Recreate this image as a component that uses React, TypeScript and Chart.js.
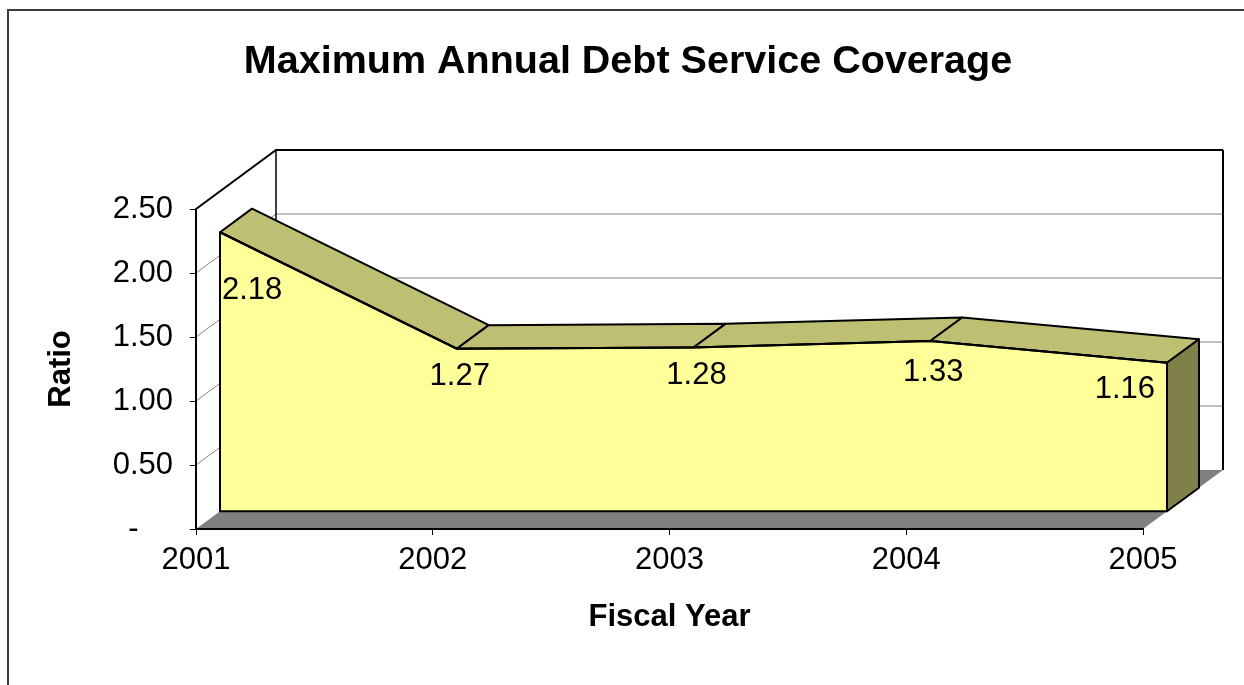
import React, { useEffect, useRef } from "react";
import { Chart, registerables } from "chart.js";

Chart.register(...registerables);

const chartTitle = "Maximum Annual Debt Service Coverage";
const fiscalYears = ["2001", "2002", "2003", "2004", "2005"];
const coverageRatio = [2.18, 1.27, 1.28, 1.33, 1.16];
const yTicks = [0, 0.5, 1.0, 1.5, 2.0, 2.5];
const xAxisTitle = "Fiscal Year";
const yAxisTitle = "Ratio";

const FONT = "'Liberation Sans', Arial, Helvetica, sans-serif";
const TICK_SIZE = 31;
const LABEL_SIZE = 31;
const AXIS_TITLE_SIZE = 31;
const TITLE_SIZE = 39.5;
const DX = 80;
const DY = -59;
const FRONT = 0.3;
const BACK = 0.7;
const COLORS = {
  face: "#FFFF99",
  top: "#BFBF73",
  side: "#80804A",
  floor: "#808080",
  grid: "#808080",
  edge: "#000000",
};

function formatTick(v: number) {
  return v === 0 ? "-    " : v.toFixed(2);
}

const depthPlugin = {
  id: "depth3d",
  beforeDraw(chart: any) {
    const { ctx, chartArea: a, scales } = chart;
    const ys = scales.y;
    const x0 = a.left;
    const x1 = a.right;
    const yb = ys.getPixelForValue(yTicks[0]);
    const yt = ys.getPixelForValue(yTicks[yTicks.length - 1]);
    ctx.save();
    ctx.fillStyle = "#ffffff";
    ctx.fillRect(0, 0, chart.width, chart.height);
    // outer frame
    ctx.strokeStyle = "#3c3c3c";
    ctx.lineWidth = 2;
    ctx.strokeRect(8, 10, chart.width + 20, chart.height + 20);
    // title
    ctx.fillStyle = "#000";
    ctx.font = `bold ${TITLE_SIZE}px ${FONT}`;
    ctx.textAlign = "center";
    ctx.textBaseline = "middle";
    ctx.fillText(chartTitle, 628, 62);
    // floor
    ctx.beginPath();
    ctx.moveTo(x0, yb);
    ctx.lineTo(x1, yb);
    ctx.lineTo(x1 + DX, yb + DY);
    ctx.lineTo(x0 + DX, yb + DY);
    ctx.closePath();
    ctx.fillStyle = COLORS.floor;
    ctx.fill();
    // gridlines on walls
    ctx.lineJoin = "miter";
    for (let i = 1; i < yTicks.length; i++) {
      const yp = ys.getPixelForValue(yTicks[i]);
      const isTop = i === yTicks.length - 1;
      ctx.beginPath();
      ctx.moveTo(x0, yp);
      ctx.lineTo(x0 + DX, yp + DY);
      ctx.lineTo(x1 + DX, yp + DY);
      ctx.strokeStyle = isTop ? COLORS.edge : COLORS.grid;
      ctx.lineWidth = isTop ? 2 : 1;
      ctx.stroke();
    }
    // back wall vertical edges
    ctx.strokeStyle = COLORS.edge;
    ctx.lineWidth = 1.5;
    ctx.beginPath();
    ctx.moveTo(x0 + DX, yt + DY);
    ctx.lineTo(x0 + DX, yb + DY);
    ctx.stroke();
    ctx.lineWidth = 2;
    ctx.beginPath();
    ctx.moveTo(x1 + DX, yt + DY);
    ctx.lineTo(x1 + DX, yb + DY);
    ctx.stroke();
    ctx.restore();
  },
  beforeDatasetsDraw(chart: any) {
    const { ctx, scales } = chart;
    const ys = scales.y;
    const meta = chart.getDatasetMeta(0);
    const base = ys.getPixelForValue(0);
    const pts = meta.data.map((p: any) => ({ x: p.x, y: p.y }));
    const f = (p: any, k: number) => ({ x: p.x + DX * k, y: p.y + DY * k });
    ctx.save();
    ctx.lineJoin = "round";
    ctx.strokeStyle = COLORS.edge;
    ctx.lineWidth = 2;
    for (let i = 0; i < pts.length - 1; i++) {
      const a = f(pts[i], FRONT);
      const b = f(pts[i + 1], FRONT);
      const c = f(pts[i + 1], BACK);
      const d = f(pts[i], BACK);
      ctx.beginPath();
      ctx.moveTo(a.x, a.y);
      ctx.lineTo(b.x, b.y);
      ctx.lineTo(c.x, c.y);
      ctx.lineTo(d.x, d.y);
      ctx.closePath();
      ctx.fillStyle = COLORS.top;
      ctx.fill();
      ctx.stroke();
    }
    const last = pts[pts.length - 1];
    const sa = f(last, FRONT);
    const sb = f(last, BACK);
    const sc = f({ x: last.x, y: base }, BACK);
    const sd = f({ x: last.x, y: base }, FRONT);
    ctx.beginPath();
    ctx.moveTo(sa.x, sa.y);
    ctx.lineTo(sb.x, sb.y);
    ctx.lineTo(sc.x, sc.y);
    ctx.lineTo(sd.x, sd.y);
    ctx.closePath();
    ctx.fillStyle = COLORS.side;
    ctx.fill();
    ctx.stroke();
    ctx.restore();
    // shift the front face of the area into depth
    ctx.save();
    ctx.translate(DX * FRONT, DY * FRONT);
  },
  afterDatasetsDraw(chart: any) {
    const { ctx, scales } = chart;
    ctx.restore();
    const ys = scales.y;
    const meta = chart.getDatasetMeta(0);
    const base = ys.getPixelForValue(0) + DY * FRONT;
    const pf = meta.data.map((p: any) => ({ x: p.x + DX * FRONT, y: p.y + DY * FRONT }));
    ctx.save();
    ctx.lineJoin = "round";
    ctx.strokeStyle = COLORS.edge;
    ctx.lineWidth = 2;
    ctx.beginPath();
    ctx.moveTo(pf[0].x, base);
    pf.forEach((p: any) => ctx.lineTo(p.x, p.y));
    ctx.lineTo(pf[pf.length - 1].x, base);
    ctx.closePath();
    ctx.stroke();

    const edgeY = (x: number) => {
      for (let i = 0; i < pf.length - 1; i++) {
        if (x >= pf[i].x && x <= pf[i + 1].x) {
          const t = (x - pf[i].x) / (pf[i + 1].x - pf[i].x);
          return pf[i].y + t * (pf[i + 1].y - pf[i].y);
        }
      }
      return x < pf[0].x ? pf[0].y : pf[pf.length - 1].y;
    };
    ctx.font = `${LABEL_SIZE}px ${FONT}`;
    ctx.fillStyle = "#000";
    ctx.textAlign = "center";
    ctx.textBaseline = "middle";
    const left = pf[0].x;
    const right = pf[pf.length - 1].x;
    coverageRatio.forEach((v, i) => {
      const text = v.toFixed(2);
      const w = ctx.measureText(text).width;
      let cx = pf[i].x + 3;
      cx = Math.max(cx, left + 2 + w / 2);
      cx = Math.min(cx, right - 12 - w / 2);
      const xs = [cx - w / 2, cx + w / 2];
      pf.forEach((p: any) => {
        if (p.x > cx - w / 2 && p.x < cx + w / 2) xs.push(p.x);
      });
      const maxY = Math.max(...xs.map(edgeY));
      ctx.fillText(text, cx, maxY + 28);
    });
    ctx.restore();
  },
};

export default function App() {
  const ref = useRef<HTMLCanvasElement>(null);
  useEffect(() => {
    if (!ref.current) return;
    const chart = new Chart(ref.current, {
      type: "line",
      data: {
        labels: fiscalYears,
        datasets: [
          {
            label: "Coverage",
            data: coverageRatio,
            backgroundColor: COLORS.face,
            borderColor: COLORS.edge,
            borderWidth: 2,
            fill: "origin",
            pointRadius: 0,
            tension: 0,
          },
        ],
      },
      options: {
        responsive: false,
        animation: false,
        devicePixelRatio: 1,
        events: [],
        layout: { padding: { left: 0, right: 101, top: 209, bottom: 0 } },
        plugins: {
          legend: { display: false },
          title: { display: false },
          tooltip: { enabled: false },
        },
        scales: {
          x: {
            type: "category",
            offset: false,
            afterFit(s: any) {
              s.height = 156;
            },
            grid: { drawOnChartArea: false, drawTicks: true, tickLength: 6, color: "#000", lineWidth: 1 },
            border: { display: true, color: "#000", width: 2 },
            ticks: {
              color: "#000",
              font: { size: TICK_SIZE, family: FONT },
              padding: 7,
              maxRotation: 0,
              autoSkip: false,
            },
            title: {
              display: true,
              text: xAxisTitle,
              color: "#000",
              font: { size: AXIS_TITLE_SIZE, weight: "bold", family: FONT },
              padding: { top: 0, bottom: 49 },
            },
          },
          y: {
            min: 0,
            max: 2.5,
            afterBuildTicks(s: any) {
              s.ticks = yTicks.map((v) => ({ value: v }));
            },
            afterFit(s: any) {
              s.width = 196;
            },
            grid: { drawOnChartArea: false, drawTicks: true, tickLength: 6, color: "#000" },
            border: { display: true, color: "#000", width: 2 },
            ticks: {
              color: "#000",
              font: { size: TICK_SIZE, family: FONT },
              padding: 17,
              callback: (v: any) => formatTick(Number(v)),
            },
            title: {
              display: true,
              text: yAxisTitle,
              color: "#000",
              font: { size: AXIS_TITLE_SIZE, weight: "bold", family: FONT },
              padding: { top: 43, bottom: 0 },
            },
          },
        },
      } as any,
      plugins: [depthPlugin],
    });
    return () => chart.destroy();
  }, []);
  return (
    <div style={{ position: "absolute", left: 0, top: 0, width: 1244, height: 685, overflow: "hidden" }}>
      <canvas ref={ref} width={1244} height={685} style={{ display: "block" }} />
    </div>
  );
}
